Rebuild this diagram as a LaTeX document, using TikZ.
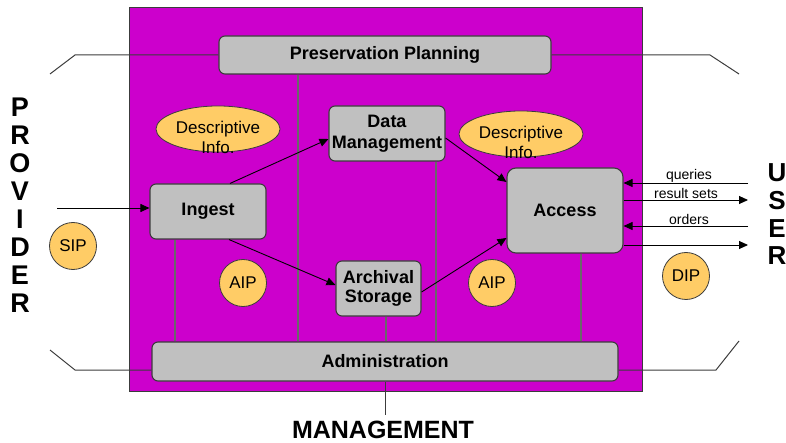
\documentclass[tikz,border=0pt]{standalone}
\usepackage{fontspec}
\setmainfont{Liberation Sans}
\usetikzlibrary{arrows.meta,shapes.geometric}
\definecolor{oaispurple}{RGB}{204,0,204}
\definecolor{boxgray}{RGB}{192,192,192}
\definecolor{infoyellow}{RGB}{255,204,102}
\definecolor{edgegray}{RGB}{60,60,60}
\definecolor{linegray}{RGB}{105,105,105}
\begin{document}
\begin{tikzpicture}[x=1pt,y=-1pt,
 func/.style={draw=edgegray, line width=1.1pt, fill=boxgray, rounded corners=6pt, font=\fontsize{18}{21}\selectfont\bfseries, align=center, inner sep=0pt},
 infoell/.style={ellipse, draw=edgegray, line width=0.8pt, fill=infoyellow, minimum width=124pt, minimum height=46pt, inner sep=0pt},
 infotext/.style={font=\fontsize{17}{20}\selectfont, align=center, yshift=-8pt, inner sep=0pt},
 pkg/.style={circle, draw=edgegray, line width=0.8pt, fill=infoyellow, minimum size=47pt, inner sep=0pt, font=\fontsize{17}{20}\selectfont},
 flow/.style={draw=black, line width=0.9pt, -{Triangle[length=9pt,width=8pt]}},
 vline/.style={draw=linegray, line width=1.5pt},
 frame/.style={draw=edgegray, line width=1pt},
 biglabel/.style={font=\fontsize{27}{28}\selectfont\bfseries, align=center, inner sep=0pt},
 small/.style={font=\fontsize{14}{16}\selectfont, inner sep=0pt}
]
\useasboundingbox (0,0) rectangle (786,443);
% system boundary
\node[draw=edgegray, line width=1pt, fill=oaispurple, minimum width=513pt, minimum height=383pt, inner sep=0pt] (oais) at (385.5,199.5) {};

% vertical x positions
\coordinate (x1) at (175,0);
\coordinate (x2) at (298,0);
\coordinate (x3) at (386,0);
\coordinate (x4) at (436,0);
\coordinate (x5) at (581,0);

% functional boxes
\node[func, minimum width=332pt, minimum height=38pt] (pp) at (385,55) {Preservation Planning};
\node[func, minimum width=466pt, minimum height=39pt] (admin) at (385,361.5) {Administration};
\node[func, minimum width=116pt, minimum height=55pt] (ingest) at (208,211.5) {Ingest};
\node[func, minimum width=116pt, minimum height=55pt] (dm) at (387,133.5) {Data\\Management};
\node[func, minimum width=85pt, minimum height=55pt, font=\fontsize{18}{19}\selectfont\bfseries] (arch) at (378.5,288.5) {Archival\\Storage};
\node[func, minimum width=116pt, minimum height=85pt, rounded corners=9pt] (access) at (565,210.5) {Access};

% vertical links to administration
\draw[vline] (ingest.south -| x1) -- (admin.north -| x1);
\draw[vline] (pp.south -| x2) -- (admin.north -| x2);
\draw[vline] (arch.south -| x3) -- (admin.north -| x3);
\draw[vline] (dm.south -| x4) -- (admin.north -| x4);
\draw[vline] (access.south -| x5) -- (admin.north -| x5);

% information objects
\node[infoell, label={[infotext]center:Descriptive\\Info.}] (d1) at (218,129) {};
\node[infoell, label={[infotext]center:Descriptive\\Info.}] (d2) at (521,134) {};
\node[pkg] (sip) at (73,246) {SIP};
\node[pkg] (aip1) at (243,283) {AIP};
\node[pkg] (aip2) at (492,283) {AIP};
\node[pkg] (dip) at (686,276) {DIP};

% internal flows
\draw[flow] ([xshift=22pt]ingest.north) -- ([yshift=-5.5pt]dm.west);
\draw[flow] ([xshift=21pt]ingest.south) -- ([yshift=3.5pt]arch.west);
\draw[flow] ([yshift=-3.5pt]arch.east) -- ([yshift=-27.5pt]access.west);
\draw[flow] ([yshift=-4.5pt]dm.east) -- ([yshift=28.5pt]access.west);

% external connectors
\coordinate (pl1) at (75,55);  \coordinate (pl2) at (50,74);
\coordinate (pr1) at (710,55); \coordinate (pr2) at (739,74);
\coordinate (al1) at (75,370); \coordinate (al2) at (50,350);
\coordinate (ar1) at (716,370); \coordinate (ar2) at (739,341);
\draw[frame] (pp.west) -- (pl1) -- (pl2);
\draw[frame] (pp.east) -- (pr1) -- (pr2);
\draw[frame] ([yshift=-8.5pt]admin.west) -- (al1) -- (al2);
\draw[frame] ([yshift=-8.5pt]admin.east) -- (ar1) -- (ar2);
\coordinate (mg) at (385,415);
\draw[frame] (admin.south) -- (mg);

% provider
\coordinate (prov) at (57,208);
\draw[flow] (prov) -- ([yshift=3.5pt]ingest.west);

% user flows
\coordinate (u1) at (748,183);
\coordinate (u2) at (748,200);
\coordinate (u3) at (748,226);
\coordinate (u4) at (748,245);
\draw[flow] (u1) -- ([yshift=27.5pt]access.east);
\draw[flow] ([yshift=10.5pt]access.east) -- (u2);
\draw[flow] (u3) -- ([yshift=-15.5pt]access.east);
\draw[flow] ([yshift=-34.5pt]access.east) -- (u4);
\node[small] (lq) at (689,176) {queries};
\node[small] (lr) at (686,193) {result sets};
\node[small] (lo) at (689,219) {orders};

% outside labels
\node[biglabel] (provider) at (20,205) {P\\R\\O\\V\\I\\D\\E\\R};
\node[biglabel, font=\fontsize{26}{27.7}\selectfont\bfseries] (user) at (777,214.5) {U\\S\\E\\R};
\node[biglabel, font=\fontsize{25}{26}\selectfont\bfseries] (mgmt) at (383,430) {MANAGEMENT};
\end{tikzpicture}
\end{document}
